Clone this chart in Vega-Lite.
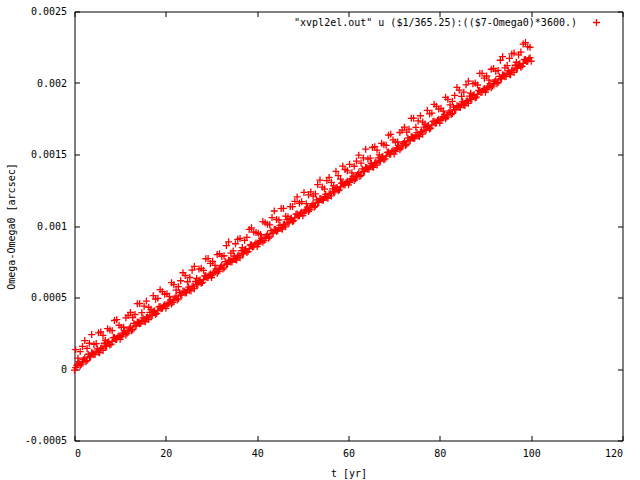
{
  "$schema": "https://vega.github.io/schema/vega-lite/v6.json",
  "width": 548,
  "height": 429,
  "autosize": "none",
  "padding": {"left": 74.5, "top": 11.5, "right": 17.5, "bottom": 39.5},
  "background": "white",
  "config": {
    "view": {"stroke": "black", "strokeWidth": 1},
    "font": "DejaVu Sans Mono",
    "axis": {
      "domain": false, "grid": false, "tickColor": "black", "tickWidth": 1, "tickSize": -5,
      "labelFont": "DejaVu Sans Mono", "labelFontSize": 10, "labelColor": "black",
      "titleFont": "DejaVu Sans Mono", "titleFontSize": 10, "titleFontWeight": "normal", "titleColor": "black"
    }
  },
  "data": {"values": [
    {"t":0,"v":-0.000008},{"t":0.5,"v":0.000026},{"t":1,"v":0.000052},{"t":1.5,"v":0.000034},{"t":2,"v":0.000065},{"t":2.5,"v":0.000051},{"t":3,"v":0.000103},{"t":3.5,"v":0.000086},{"t":4,"v":0.000111},{"t":4.5,"v":0.000102},
    {"t":5,"v":0.000141},{"t":5.5,"v":0.000114},{"t":6,"v":0.000148},{"t":6.5,"v":0.00018},{"t":7,"v":0.000159},{"t":7.5,"v":0.00019},{"t":8,"v":0.000173},{"t":8.5,"v":0.000219},{"t":9,"v":0.000206},{"t":9.5,"v":0.000225},
    {"t":10,"v":0.000208},{"t":10.5,"v":0.000242},{"t":11,"v":0.000268},{"t":11.5,"v":0.00025},{"t":12,"v":0.000281},{"t":12.5,"v":0.000267},{"t":13,"v":0.000319},{"t":13.5,"v":0.000302},{"t":14,"v":0.000327},{"t":14.5,"v":0.000318},
    {"t":15,"v":0.000357},{"t":15.5,"v":0.00033},{"t":16,"v":0.000364},{"t":16.5,"v":0.000396},{"t":17,"v":0.000375},{"t":17.5,"v":0.000406},{"t":18,"v":0.000389},{"t":18.5,"v":0.000435},{"t":19,"v":0.000422},{"t":19.5,"v":0.000441},
    {"t":20,"v":0.000424},{"t":20.5,"v":0.000458},{"t":21,"v":0.000484},{"t":21.5,"v":0.000466},{"t":22,"v":0.000497},{"t":22.5,"v":0.000483},{"t":23,"v":0.000535},{"t":23.5,"v":0.000518},{"t":24,"v":0.000543},{"t":24.5,"v":0.000534},
    {"t":25,"v":0.000573},{"t":25.5,"v":0.000546},{"t":26,"v":0.00058},{"t":26.5,"v":0.000612},{"t":27,"v":0.000591},{"t":27.5,"v":0.000622},{"t":28,"v":0.000605},{"t":28.5,"v":0.000651},{"t":29,"v":0.000638},{"t":29.5,"v":0.000657},
    {"t":30,"v":0.00064},{"t":30.5,"v":0.000674},{"t":31,"v":0.0007},{"t":31.5,"v":0.000682},{"t":32,"v":0.000713},{"t":32.5,"v":0.000699},{"t":33,"v":0.000751},{"t":33.5,"v":0.000734},{"t":34,"v":0.000759},{"t":34.5,"v":0.00075},
    {"t":35,"v":0.000789},{"t":35.5,"v":0.000762},{"t":36,"v":0.000796},{"t":36.5,"v":0.000828},{"t":37,"v":0.000807},{"t":37.5,"v":0.000838},{"t":38,"v":0.000821},{"t":38.5,"v":0.000867},{"t":39,"v":0.000854},{"t":39.5,"v":0.000873},
    {"t":40,"v":0.000856},{"t":40.5,"v":0.00089},{"t":41,"v":0.000916},{"t":41.5,"v":0.000898},{"t":42,"v":0.000929},{"t":42.5,"v":0.000915},{"t":43,"v":0.000967},{"t":43.5,"v":0.00095},{"t":44,"v":0.000975},{"t":44.5,"v":0.000966},
    {"t":45,"v":0.001005},{"t":45.5,"v":0.000978},{"t":46,"v":0.001012},{"t":46.5,"v":0.001044},{"t":47,"v":0.001023},{"t":47.5,"v":0.001054},{"t":48,"v":0.001037},{"t":48.5,"v":0.001083},{"t":49,"v":0.00107},{"t":49.5,"v":0.001089},
    {"t":50,"v":0.001072},{"t":50.5,"v":0.001106},{"t":51,"v":0.001132},{"t":51.5,"v":0.001114},{"t":52,"v":0.001145},{"t":52.5,"v":0.001131},{"t":53,"v":0.001183},{"t":53.5,"v":0.001166},{"t":54,"v":0.001191},{"t":54.5,"v":0.001182},
    {"t":55,"v":0.001221},{"t":55.5,"v":0.001194},{"t":56,"v":0.001228},{"t":56.5,"v":0.00126},{"t":57,"v":0.001239},{"t":57.5,"v":0.00127},{"t":58,"v":0.001253},{"t":58.5,"v":0.001299},{"t":59,"v":0.001286},{"t":59.5,"v":0.001305},
    {"t":60,"v":0.001288},{"t":60.5,"v":0.001322},{"t":61,"v":0.001348},{"t":61.5,"v":0.00133},{"t":62,"v":0.001361},{"t":62.5,"v":0.001347},{"t":63,"v":0.001399},{"t":63.5,"v":0.001382},{"t":64,"v":0.001407},{"t":64.5,"v":0.001398},
    {"t":65,"v":0.001437},{"t":65.5,"v":0.00141},{"t":66,"v":0.001444},{"t":66.5,"v":0.001476},{"t":67,"v":0.001455},{"t":67.5,"v":0.001486},{"t":68,"v":0.001469},{"t":68.5,"v":0.001515},{"t":69,"v":0.001502},{"t":69.5,"v":0.001521},
    {"t":70,"v":0.001504},{"t":70.5,"v":0.001538},{"t":71,"v":0.001564},{"t":71.5,"v":0.001546},{"t":72,"v":0.001577},{"t":72.5,"v":0.001563},{"t":73,"v":0.001615},{"t":73.5,"v":0.001598},{"t":74,"v":0.001623},{"t":74.5,"v":0.001614},
    {"t":75,"v":0.001653},{"t":75.5,"v":0.001626},{"t":76,"v":0.00166},{"t":76.5,"v":0.001692},{"t":77,"v":0.001671},{"t":77.5,"v":0.001702},{"t":78,"v":0.001685},{"t":78.5,"v":0.001731},{"t":79,"v":0.001718},{"t":79.5,"v":0.001737},
    {"t":80,"v":0.00172},{"t":80.5,"v":0.001754},{"t":81,"v":0.00178},{"t":81.5,"v":0.001762},{"t":82,"v":0.001793},{"t":82.5,"v":0.001779},{"t":83,"v":0.001831},{"t":83.5,"v":0.001814},{"t":84,"v":0.001839},{"t":84.5,"v":0.00183},
    {"t":85,"v":0.001869},{"t":85.5,"v":0.001842},{"t":86,"v":0.001876},{"t":86.5,"v":0.001908},{"t":87,"v":0.001887},{"t":87.5,"v":0.001918},{"t":88,"v":0.001901},{"t":88.5,"v":0.001947},{"t":89,"v":0.001934},{"t":89.5,"v":0.001953},
    {"t":90,"v":0.001936},{"t":90.5,"v":0.00197},{"t":91,"v":0.001996},{"t":91.5,"v":0.001978},{"t":92,"v":0.002009},{"t":92.5,"v":0.001995},{"t":93,"v":0.002047},{"t":93.5,"v":0.00203},{"t":94,"v":0.002055},{"t":94.5,"v":0.002046},
    {"t":95,"v":0.002085},{"t":95.5,"v":0.002058},{"t":96,"v":0.002092},{"t":96.5,"v":0.002124},{"t":97,"v":0.002103},{"t":97.5,"v":0.002134},{"t":98,"v":0.002117},{"t":98.5,"v":0.002163},{"t":99,"v":0.00215},{"t":99.5,"v":0.002169},
    {"t":100,"v":0.002152},
    {"t":0.25,"v":0.000135},{"t":1.25,"v":0.000122},{"t":2.25,"v":0.000199},{"t":3.25,"v":0.00018},{"t":4.25,"v":0.000172},{"t":5.25,"v":0.000253},{"t":6.25,"v":0.000235},{"t":7.25,"v":0.000282},{"t":8.25,"v":0.000268},{"t":9.25,"v":0.000345},
    {"t":10.25,"v":0.000291},{"t":11.25,"v":0.000358},{"t":12.25,"v":0.000395},{"t":13.25,"v":0.000381},{"t":14.25,"v":0.000458},{"t":15.25,"v":0.000439},{"t":16.25,"v":0.000431},{"t":17.25,"v":0.000513},{"t":18.25,"v":0.000494},{"t":19.25,"v":0.000541},
    {"t":20.25,"v":0.000527},{"t":21.25,"v":0.000604},{"t":22.25,"v":0.000551},{"t":23.25,"v":0.000617},{"t":24.25,"v":0.000654},{"t":25.25,"v":0.00064},{"t":26.25,"v":0.000717},{"t":27.25,"v":0.000699},{"t":28.25,"v":0.00069},{"t":29.25,"v":0.000772},
    {"t":30.25,"v":0.000753},{"t":31.25,"v":0.0008},{"t":32.25,"v":0.000787},{"t":33.25,"v":0.000863},{"t":34.25,"v":0.00081},{"t":35.25,"v":0.000876},{"t":36.25,"v":0.000913},{"t":37.25,"v":0.0009},{"t":38.25,"v":0.000976},{"t":39.25,"v":0.000958},
    {"t":40.25,"v":0.000949},{"t":41.25,"v":0.001031},{"t":42.25,"v":0.001013},{"t":43.25,"v":0.001059},{"t":44.25,"v":0.001046},{"t":45.25,"v":0.001122},{"t":46.25,"v":0.001069},{"t":47.25,"v":0.001136},{"t":48.25,"v":0.001172},{"t":49.25,"v":0.001159},
    {"t":50.25,"v":0.001235},{"t":51.25,"v":0.001217},{"t":52.25,"v":0.001209},{"t":53.25,"v":0.00129},{"t":54.25,"v":0.001272},{"t":55.25,"v":0.001318},{"t":56.25,"v":0.001305},{"t":57.25,"v":0.001382},{"t":58.25,"v":0.001328},{"t":59.25,"v":0.001395},
    {"t":60.25,"v":0.001431},{"t":61.25,"v":0.001418},{"t":62.25,"v":0.001495},{"t":63.25,"v":0.001476},{"t":64.25,"v":0.001468},{"t":65.25,"v":0.001549},{"t":66.25,"v":0.001531},{"t":67.25,"v":0.001578},{"t":68.25,"v":0.001564},{"t":69.25,"v":0.001641},
    {"t":70.25,"v":0.001587},{"t":71.25,"v":0.001654},{"t":72.25,"v":0.001691},{"t":73.25,"v":0.001677},{"t":74.25,"v":0.001754},{"t":75.25,"v":0.001735},{"t":76.25,"v":0.001727},{"t":77.25,"v":0.001809},{"t":78.25,"v":0.00179},{"t":79.25,"v":0.001837},
    {"t":80.25,"v":0.001823},{"t":81.25,"v":0.0019},{"t":82.25,"v":0.001847},{"t":83.25,"v":0.001913},{"t":84.25,"v":0.00195},{"t":85.25,"v":0.001936},{"t":86.25,"v":0.002013},{"t":87.25,"v":0.001995},{"t":88.25,"v":0.001986},{"t":89.25,"v":0.002068},
    {"t":90.25,"v":0.002049},{"t":91.25,"v":0.002096},{"t":92.25,"v":0.002083},{"t":93.25,"v":0.002159},{"t":94.25,"v":0.002106},{"t":95.25,"v":0.002172},{"t":96.25,"v":0.002209},{"t":97.25,"v":0.002196},{"t":98.25,"v":0.002272},{"t":99.25,"v":0.002254},
    {"t":0.25,"v":0.00001},{"t":0.75,"v":0.000036},{"t":1.25,"v":0.000022},{"t":1.75,"v":0.00005},{"t":2.25,"v":0.000077},{"t":2.75,"v":0.000059},{"t":3.25,"v":0.000085},{"t":3.75,"v":0.000113},{"t":4.25,"v":0.0001},{"t":4.75,"v":0.000125},
    {"t":5.25,"v":0.000118},{"t":5.75,"v":0.000144},{"t":6.25,"v":0.00013},{"t":6.75,"v":0.000158},{"t":7.25,"v":0.000185},{"t":7.75,"v":0.000167},{"t":8.25,"v":0.000193},{"t":8.75,"v":0.000221},{"t":9.25,"v":0.000208},{"t":9.75,"v":0.000233},
    {"t":10.25,"v":0.000226},{"t":10.75,"v":0.000252},{"t":11.25,"v":0.000238},{"t":11.75,"v":0.000266},{"t":12.25,"v":0.000293},{"t":12.75,"v":0.000275},{"t":13.25,"v":0.000301},{"t":13.75,"v":0.000329},{"t":14.25,"v":0.000316},{"t":14.75,"v":0.000341},
    {"t":15.25,"v":0.000334},{"t":15.75,"v":0.00036},{"t":16.25,"v":0.000346},{"t":16.75,"v":0.000374},{"t":17.25,"v":0.000401},{"t":17.75,"v":0.000383},{"t":18.25,"v":0.000409},{"t":18.75,"v":0.000437},{"t":19.25,"v":0.000424},{"t":19.75,"v":0.000449},
    {"t":20.25,"v":0.000442},{"t":20.75,"v":0.000468},{"t":21.25,"v":0.000454},{"t":21.75,"v":0.000482},{"t":22.25,"v":0.000509},{"t":22.75,"v":0.000491},{"t":23.25,"v":0.000517},{"t":23.75,"v":0.000545},{"t":24.25,"v":0.000532},{"t":24.75,"v":0.000557},
    {"t":25.25,"v":0.00055},{"t":25.75,"v":0.000576},{"t":26.25,"v":0.000562},{"t":26.75,"v":0.00059},{"t":27.25,"v":0.000617},{"t":27.75,"v":0.000599},{"t":28.25,"v":0.000625},{"t":28.75,"v":0.000653},{"t":29.25,"v":0.00064},{"t":29.75,"v":0.000665},
    {"t":30.25,"v":0.000658},{"t":30.75,"v":0.000684},{"t":31.25,"v":0.00067},{"t":31.75,"v":0.000698},{"t":32.25,"v":0.000725},{"t":32.75,"v":0.000707},{"t":33.25,"v":0.000733},{"t":33.75,"v":0.000761},{"t":34.25,"v":0.000748},{"t":34.75,"v":0.000773},
    {"t":35.25,"v":0.000766},{"t":35.75,"v":0.000792},{"t":36.25,"v":0.000778},{"t":36.75,"v":0.000806},{"t":37.25,"v":0.000833},{"t":37.75,"v":0.000815},{"t":38.25,"v":0.000841},{"t":38.75,"v":0.000869},{"t":39.25,"v":0.000856},{"t":39.75,"v":0.000881},
    {"t":40.25,"v":0.000874},{"t":40.75,"v":0.0009},{"t":41.25,"v":0.000886},{"t":41.75,"v":0.000914},{"t":42.25,"v":0.000941},{"t":42.75,"v":0.000923},{"t":43.25,"v":0.000949},{"t":43.75,"v":0.000977},{"t":44.25,"v":0.000964},{"t":44.75,"v":0.000989},
    {"t":45.25,"v":0.000982},{"t":45.75,"v":0.001008},{"t":46.25,"v":0.000994},{"t":46.75,"v":0.001022},{"t":47.25,"v":0.001049},{"t":47.75,"v":0.001031},{"t":48.25,"v":0.001057},{"t":48.75,"v":0.001085},{"t":49.25,"v":0.001072},{"t":49.75,"v":0.001097},
    {"t":50.25,"v":0.00109},{"t":50.75,"v":0.001116},{"t":51.25,"v":0.001102},{"t":51.75,"v":0.00113},{"t":52.25,"v":0.001157},{"t":52.75,"v":0.001139},{"t":53.25,"v":0.001165},{"t":53.75,"v":0.001193},{"t":54.25,"v":0.00118},{"t":54.75,"v":0.001205},
    {"t":55.25,"v":0.001198},{"t":55.75,"v":0.001224},{"t":56.25,"v":0.00121},{"t":56.75,"v":0.001238},{"t":57.25,"v":0.001265},{"t":57.75,"v":0.001247},{"t":58.25,"v":0.001273},{"t":58.75,"v":0.001301},{"t":59.25,"v":0.001288},{"t":59.75,"v":0.001313},
    {"t":60.25,"v":0.001306},{"t":60.75,"v":0.001332},{"t":61.25,"v":0.001318},{"t":61.75,"v":0.001346},{"t":62.25,"v":0.001373},{"t":62.75,"v":0.001355},{"t":63.25,"v":0.001381},{"t":63.75,"v":0.001409},{"t":64.25,"v":0.001396},{"t":64.75,"v":0.001421},
    {"t":65.25,"v":0.001414},{"t":65.75,"v":0.00144},{"t":66.25,"v":0.001426},{"t":66.75,"v":0.001454},{"t":67.25,"v":0.001481},{"t":67.75,"v":0.001463},{"t":68.25,"v":0.001489},{"t":68.75,"v":0.001517},{"t":69.25,"v":0.001504},{"t":69.75,"v":0.001529},
    {"t":70.25,"v":0.001522},{"t":70.75,"v":0.001548},{"t":71.25,"v":0.001534},{"t":71.75,"v":0.001562},{"t":72.25,"v":0.001589},{"t":72.75,"v":0.001571},{"t":73.25,"v":0.001597},{"t":73.75,"v":0.001625},{"t":74.25,"v":0.001612},{"t":74.75,"v":0.001637},
    {"t":75.25,"v":0.00163},{"t":75.75,"v":0.001656},{"t":76.25,"v":0.001642},{"t":76.75,"v":0.00167},{"t":77.25,"v":0.001697},{"t":77.75,"v":0.001679},{"t":78.25,"v":0.001705},{"t":78.75,"v":0.001733},{"t":79.25,"v":0.00172},{"t":79.75,"v":0.001745},
    {"t":80.25,"v":0.001738},{"t":80.75,"v":0.001764},{"t":81.25,"v":0.00175},{"t":81.75,"v":0.001778},{"t":82.25,"v":0.001805},{"t":82.75,"v":0.001787},{"t":83.25,"v":0.001813},{"t":83.75,"v":0.001841},{"t":84.25,"v":0.001828},{"t":84.75,"v":0.001853},
    {"t":85.25,"v":0.001846},{"t":85.75,"v":0.001872},{"t":86.25,"v":0.001858},{"t":86.75,"v":0.001886},{"t":87.25,"v":0.001913},{"t":87.75,"v":0.001895},{"t":88.25,"v":0.001921},{"t":88.75,"v":0.001949},{"t":89.25,"v":0.001936},{"t":89.75,"v":0.001961},
    {"t":90.25,"v":0.001954},{"t":90.75,"v":0.00198},{"t":91.25,"v":0.001966},{"t":91.75,"v":0.001994},{"t":92.25,"v":0.002021},{"t":92.75,"v":0.002003},{"t":93.25,"v":0.002029},{"t":93.75,"v":0.002057},{"t":94.25,"v":0.002044},{"t":94.75,"v":0.002069},
    {"t":95.25,"v":0.002062},{"t":95.75,"v":0.002088},{"t":96.25,"v":0.002074},{"t":96.75,"v":0.002102},{"t":97.25,"v":0.002129},{"t":97.75,"v":0.002111},{"t":98.25,"v":0.002137},{"t":98.75,"v":0.002165},{"t":99.25,"v":0.002152},{"t":99.75,"v":0.002177},
    {"t":0.75,"v":0.000076},{"t":1.75,"v":0.000158},{"t":2.75,"v":0.000144},{"t":3.75,"v":0.000241},{"t":4.75,"v":0.000178},{"t":5.75,"v":0.000259},{"t":6.75,"v":0.000201},{"t":7.75,"v":0.000272},{"t":8.75,"v":0.000339},{"t":9.75,"v":0.000306},
    {"t":10.75,"v":0.000292},{"t":11.75,"v":0.000374},{"t":12.75,"v":0.00036},{"t":13.75,"v":0.000457},{"t":14.75,"v":0.000394},{"t":15.75,"v":0.000475},{"t":16.75,"v":0.000417},{"t":17.75,"v":0.000488},{"t":18.75,"v":0.000555},{"t":19.75,"v":0.000522},
    {"t":20.75,"v":0.000508},{"t":21.75,"v":0.00059},{"t":22.75,"v":0.000576},{"t":23.75,"v":0.000673},{"t":24.75,"v":0.00061},{"t":25.75,"v":0.000691},{"t":26.75,"v":0.000633},{"t":27.75,"v":0.000704},{"t":28.75,"v":0.000771},{"t":29.75,"v":0.000738},
    {"t":30.75,"v":0.000724},{"t":31.75,"v":0.000806},{"t":32.75,"v":0.000792},{"t":33.75,"v":0.000889},{"t":34.75,"v":0.000826},{"t":35.75,"v":0.000907},{"t":36.75,"v":0.000849},{"t":37.75,"v":0.00092},{"t":38.75,"v":0.000987},{"t":39.75,"v":0.000954},
    {"t":40.75,"v":0.00094},{"t":41.75,"v":0.001022},{"t":42.75,"v":0.001008},{"t":43.75,"v":0.001105},{"t":44.75,"v":0.001042},{"t":45.75,"v":0.001123},{"t":46.75,"v":0.001065},{"t":47.75,"v":0.001136},{"t":48.75,"v":0.001203},{"t":49.75,"v":0.00117},
    {"t":50.75,"v":0.001156},{"t":51.75,"v":0.001238},{"t":52.75,"v":0.001224},{"t":53.75,"v":0.001321},{"t":54.75,"v":0.001258},{"t":55.75,"v":0.001339},{"t":56.75,"v":0.001281},{"t":57.75,"v":0.001352},{"t":58.75,"v":0.001419},{"t":59.75,"v":0.001386},
    {"t":60.75,"v":0.001372},{"t":61.75,"v":0.001454},{"t":62.75,"v":0.00144},{"t":63.75,"v":0.001537},{"t":64.75,"v":0.001474},{"t":65.75,"v":0.001555},{"t":66.75,"v":0.001497},{"t":67.75,"v":0.001568},{"t":68.75,"v":0.001635},{"t":69.75,"v":0.001602},
    {"t":70.75,"v":0.001588},{"t":71.75,"v":0.00167},{"t":72.75,"v":0.001656},{"t":73.75,"v":0.001753},{"t":74.75,"v":0.00169},{"t":75.75,"v":0.001771},{"t":76.75,"v":0.001713},{"t":77.75,"v":0.001784},{"t":78.75,"v":0.001851},{"t":79.75,"v":0.001818},
    {"t":80.75,"v":0.001804},{"t":81.75,"v":0.001886},{"t":82.75,"v":0.001872},{"t":83.75,"v":0.001969},{"t":84.75,"v":0.001906},{"t":85.75,"v":0.001987},{"t":86.75,"v":0.001929},{"t":87.75,"v":0.002},{"t":88.75,"v":0.002067},{"t":89.75,"v":0.002034},
    {"t":90.75,"v":0.00202},{"t":91.75,"v":0.002102},{"t":92.75,"v":0.002088},{"t":93.75,"v":0.002185},{"t":94.75,"v":0.002122},{"t":95.75,"v":0.002203},{"t":96.75,"v":0.002145},{"t":97.75,"v":0.002216},{"t":98.75,"v":0.002283},{"t":99.75,"v":0.00225}
  ]},
  "layer": [
    {
      "mark": {"type": "point", "shape": "M-1,0H1M0,-1V1", "filled": false, "size": 49, "strokeWidth": 1.3, "opacity": 1},
      "encoding": {
        "x": {"field": "t", "type": "quantitative", "scale": {"domain": [0, 120], "nice": false, "zero": false},
          "axis": {"orient": "bottom", "values": [0, 20, 40, 60, 80, 100, 120], "format": "d", "labelPadding": 13, "title": "t [yr]", "titlePadding": 10}},
        "y": {"field": "v", "type": "quantitative", "scale": {"domain": [-0.0005, 0.0025], "nice": false, "zero": false},
          "axis": {"orient": "left", "values": [-0.0005, 0, 0.0005, 0.001, 0.0015, 0.002, 0.0025], "format": ".4~f", "labelExpr": "replace(datum.label, '\u2212', '-')", "labelPadding": 13, "title": "Omega-Omega0 [arcsec]", "titlePadding": 8}},
        "color": {"datum": "\"xvpl2el.out\" u ($1/365.25):(($7-Omega0)*3600.)", "type": "nominal",
          "scale": {"range": ["#ff0000"]},
          "legend": {"orient": "none", "legendX": 500, "legendY": 6, "title": null, "padding": 0,
            "labelAlign": "right", "labelOffset": -24.5, "symbolOffset": 17, "labelLimit": 0,
            "symbolType": "M-1,0H1M0,-1V1", "symbolSize": 49, "symbolStrokeWidth": 1.3, "symbolFillColor": "transparent",
            "labelFont": "DejaVu Sans Mono", "labelFontSize": 10, "labelColor": "black"}}
      }
    },
    {
      "mark": {"type": "point", "opacity": 0},
      "encoding": {
        "x": {"field": "t", "type": "quantitative", "scale": {"domain": [0, 120], "nice": false, "zero": false},
          "axis": {"orient": "top", "values": [0, 20, 40, 60, 80, 100, 120], "labels": false, "title": null}},
        "y": {"field": "v", "type": "quantitative", "scale": {"domain": [-0.0005, 0.0025], "nice": false, "zero": false},
          "axis": {"orient": "right", "values": [-0.0005, 0, 0.0005, 0.001, 0.0015, 0.002, 0.0025], "labels": false, "title": null}}
      }
    }
  ],
  "resolve": {"axis": {"x": "independent", "y": "independent"}}
}
